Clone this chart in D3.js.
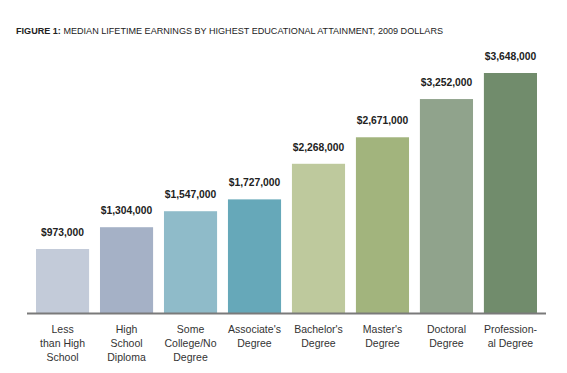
<!DOCTYPE html>
<html>
<head>
<meta charset="utf-8">
<script src="https://cdn.jsdelivr.net/npm/d3@7"></script>
<style>
body { margin: 0; background: #fff; }
svg { display: block; }
</style>
</head>
<body>
<svg width="567" height="373"></svg>
<script>
var svg = d3.select('svg')

var categories = [
	["Less", "than High", "School"],
	["High", "School", "Diploma"],
	["Some", "College/No", "Degree"],
	["Associate's", "Degree"],
	["Bachelor's", "Degree"],
	["Master's", "Degree"],
	["Doctoral", "Degree"],
	["Profession-", "al Degree"]
]
var earnings = [973000, 1304000, 1547000, 1727000, 2268000, 2671000, 3252000, 3648000]
var barColors = ["#c3cbd9", "#a5b1c6", "#8fbbc9", "#66a8b9", "#bec99d", "#a2b47d", "#90a38c", "#718c6c"]

var baseY = 313
var fontFam = "'Liberation Sans', Arial, Helvetica, sans-serif"

var x = d3.scaleBand()
	.domain(d3.range(earnings.length))
	.range([36, 537])
	.paddingInner(0.17)
	.paddingOuter(0)

var y = d3.scaleLinear()
	.domain([0, 3648000])
	.range([baseY, 73])

var fmt = d3.format("$,")

//Title
var title = svg.append('text')
	.attr('x', 16)
	.attr('y', 34)
	.attr('font-family', fontFam)
	.attr('font-size', 8.6)
	.attr('fill', '#222')
	.attr('textLength', 427)
	.attr('lengthAdjust', 'spacingAndGlyphs')
title.append('tspan').attr('font-weight', 'bold').text('FIGURE 1:')
title.append('tspan').text(' MEDIAN LIFETIME EARNINGS BY HIGHEST EDUCATIONAL ATTAINMENT, 2009 DOLLARS')

//Bars
svg.selectAll('rect.bar')
	.data(earnings)
	.enter()
	.append('rect')
	.attr('class', 'bar')
	.attr('x', function(d, i) { return x(i) })
	.attr('y', function(d) { return y(d) })
	.attr('width', x.bandwidth())
	.attr('height', function(d) { return baseY - y(d) })
	.attr('fill', function(d, i) { return barColors[i] })

//Value labels
svg.selectAll('text.val')
	.data(earnings)
	.enter()
	.append('text')
	.attr('class', 'val')
	.attr('x', function(d, i) { return x(i) + x.bandwidth()/2 })
	.attr('y', function(d) { return y(d) - 13 })
	.attr('text-anchor', 'middle')
	.attr('font-family', fontFam)
	.attr('font-weight', 'bold')
	.attr('font-size', 10.3)
	.attr('fill', '#222')
	.text(function(d) { return fmt(d) })

//Baseline
svg.append('line')
	.attr('x1', 27)
	.attr('x2', 546)
	.attr('y1', baseY + 0.5)
	.attr('y2', baseY + 0.5)
	.attr('stroke', '#7a7a7a')
	.attr('stroke-width', 2)

//Category labels
var cat = svg.selectAll('text.cat')
	.data(categories)
	.enter()
	.append('text')
	.attr('class', 'cat')
	.attr('text-anchor', 'middle')
	.attr('font-family', fontFam)
	.attr('font-size', 10.5)
	.attr('fill', '#333')

cat.selectAll('tspan')
	.data(function(d, i) { return d.map(function(s) { return {s: s, i: i} }) })
	.enter()
	.append('tspan')
	.attr('x', function(d) { return x(d.i) + x.bandwidth()/2 })
	.attr('y', function(d, j) { return 333 + j * 14 })
	.text(function(d) { return d.s })
</script>
</body>
</html>
